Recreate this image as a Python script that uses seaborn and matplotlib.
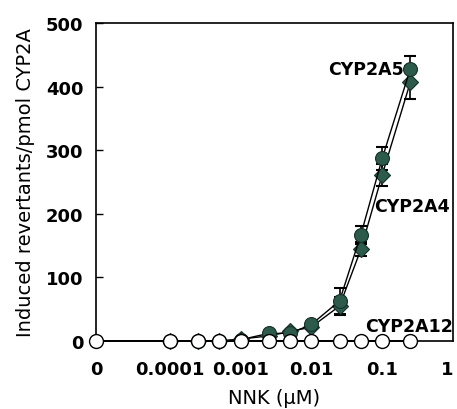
import numpy as np
import pandas as pd
import matplotlib
matplotlib.use("Agg")
import matplotlib.pyplot as plt
import seaborn as sns

# ---- data ----
conc = [0, 0.0001, 0.00025, 0.0005, 0.001, 0.0025, 0.005, 0.01, 0.025, 0.05, 0.1, 0.25]
cyp2a5 = [0, 0, 0, 0, 2, 12, 12, 26, 63, 167, 287, 428]
cyp2a5_err = [0, 0, 0, 0, 0, 0, 0, 3, 20, 14, 18, 20]
cyp2a4 = [0, 0, 0, 0, 3, 8, 15, 22, 55, 144, 261, 407]
cyp2a4_err = [0, 0, 0, 0, 0, 0, 0, 3, 14, 11, 18, 26]
cyp2a12 = [0, 0, 0, 0, 0, 0, 0, 0, 0, 0, 0, 0]
xtick_vals = [0, 0.0001, 0.001, 0.01, 0.1, 1]
xtick_labels = ["0", "0.0001", "0.001", "0.01", "0.1", "1"]
ytick_vals = [0, 100, 200, 300, 400, 500]

ZERO_POS = 9.1e-6  # where the "0" concentration is drawn on the log axis


def xpos(v):
    return [ZERO_POS if c == 0 else c for c in v]


sns.set_style("white")
plt.rcParams["font.family"] = ["DejaVu Sans"]
plt.rcParams["text.color"] = "black"
plt.rcParams["axes.labelcolor"] = "black"
plt.rcParams["xtick.color"] = "black"
plt.rcParams["ytick.color"] = "black"

fig = plt.figure(figsize=(4.57, 4.10), dpi=100)
ax = fig.add_axes([96 / 457, (410 - 342) / 410, (453 - 96) / 457, (342 - 24) / 410])

green = "#2c5b4b"
edge = "#16302a"

df = pd.DataFrame({"conc": xpos(conc), "a5": cyp2a5, "a4": cyp2a4, "a12": cyp2a12})
df_pos = df[df["conc"] > ZERO_POS]

# CYP2A4 (diamonds) and CYP2A5 (circles)
sns.lineplot(data=df_pos, x="conc", y="a4", ax=ax, color="black", lw=1.0,
             marker="D", markersize=8, markerfacecolor=green, markeredgecolor=edge,
             markeredgewidth=0.8, estimator=None, sort=False, clip_on=False, zorder=3)
ax.errorbar(df_pos["conc"], df_pos["a4"], yerr=[cyp2a4_err[1:], cyp2a4_err[1:]], fmt="none",
            ecolor="black", elinewidth=1.2, capsize=4.5, capthick=1.5, zorder=2)
sns.lineplot(data=df_pos, x="conc", y="a5", ax=ax, color="black", lw=1.0,
             marker="o", markersize=10, markerfacecolor=green, markeredgecolor=edge,
             markeredgewidth=0.8, estimator=None, sort=False, clip_on=False, zorder=4)
ax.errorbar(df_pos["conc"], df_pos["a5"], yerr=[cyp2a5_err[1:], cyp2a5_err[1:]], fmt="none",
            ecolor="black", elinewidth=1.2, capsize=4.5, capthick=1.5, zorder=2)

# CYP2A12 open circles
sns.lineplot(data=df, x="conc", y="a12", ax=ax, color="black", lw=1.4,
             marker="o", markersize=10, markerfacecolor="white", markeredgecolor="black",
             markeredgewidth=1.0, estimator=None, sort=False, clip_on=False, zorder=6)

ax.set_xscale("log")
ax.set_xlim(1.0e-5, 1)
ax.set_ylim(0, 500)

ax.set_xticks(xpos(xtick_vals))
ax.set_xticklabels(xtick_labels)
ax.minorticks_off()
ax.set_yticks(ytick_vals)
ax.set_yticklabels([str(v) for v in ytick_vals])

ax.tick_params(axis="x", length=0, pad=14, labelsize=13, labelcolor="black")
ax.tick_params(axis="y", direction="in", length=5, width=1, pad=9, labelsize=13,
               right=False, left=True, labelcolor="black")
for lab in ax.get_xticklabels() + ax.get_yticklabels():
    lab.set_fontweight("bold")
ax.get_xticklabels()[-1].set_horizontalalignment("right")

for s in ax.spines.values():
    s.set_visible(True)
    s.set_color("black")
    s.set_linewidth(1.2)

ax.set_xlabel("NNK (\u00b5M)", fontsize=14, fontweight="normal", labelpad=7, color="black")
ax.set_ylabel("Induced revertants/pmol CYP2A", fontsize=14, fontweight="normal", color="black")
ax.yaxis.set_label_coords(-0.17, 0.5)

ax.text(0.205, 427, "CYP2A5", ha="right", va="center", fontsize=12.5, fontweight="bold", zorder=7)
ax.text(0.078, 212, "CYP2A4", ha="left", va="center", fontsize=12.5, fontweight="bold", zorder=7)
ax.text(0.99, 23, "CYP2A12", ha="right", va="center", fontsize=12.5, fontweight="bold", zorder=7)

fig.savefig("out.png", dpi=100)
